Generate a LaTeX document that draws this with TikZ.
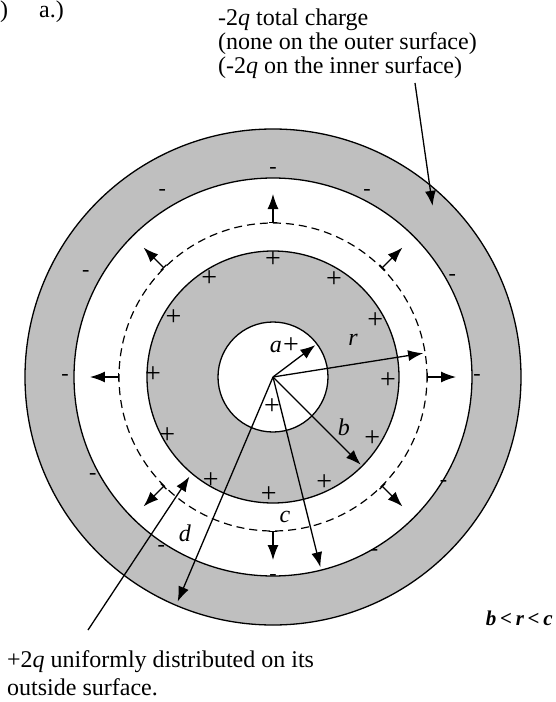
\documentclass[tikz,border=0pt]{standalone}
\usepackage{fontspec}
\setmainfont{Liberation Serif}
\usetikzlibrary{arrows.meta, positioning}

\begin{document}
\begin{tikzpicture}[x=1pt, y=1pt, font=\fontsize{24}{24}\selectfont]
  \tikzstyle{shell} = [draw, line width=1.3pt]
  \tikzstyle{rad} = [-{Latex[length=15pt, width=11pt]}, line width=1.3pt]
  \tikzstyle{fld} = [{Bar[width=8pt]}-{Latex[length=15pt, width=11pt]}, line width=1.3pt]
  \tikzstyle{lbl} = [inner sep=0pt, font=\fontsize{24}{24}\selectfont\itshape]
  \tikzstyle{chg} = [inner sep=0pt, font=\fontsize{28}{28}\selectfont]
  \tikzstyle{neg} = [inner sep=0pt, font=\fontsize{22}{22}\selectfont]

  \useasboundingbox (-273,-325) rectangle (282,377);

  % the two shells
  \draw [shell, fill=gray!50] (0,0) circle (248);
  \draw [shell, fill=white]   (0,0) circle (199);
  \draw [line width=1.2pt, dash pattern=on 8pt off 5pt] (0,0) circle (154);
  \draw [shell, fill=gray!50] (0,0) circle (126);
  \draw [shell, fill=white]   (0,0) circle (55);

  % charges
  \foreach \ang/\rad [count=\i] in {90/117, 58/115, 29/117, -2/115, -32/117, -64/117,
      -92/118, -121/121, -151/121, 179/120, 149/116, 123/117}
    \node (plus\i) [chg] at (\ang:\rad) {+};
  \foreach \ang/\rad [count=\i] in {90/207, 63/207, 29/205, 0/204, -32/201, -60/203,
      -90/200, -123/205, -151/206, 180/208, 151/214, 121/215}
    \node (minus\i) [neg] at (\ang:\rad) {-};
  \node (inplus1) [chg] at (18,31) {+};
  \node (inplus2) [chg] at (-1,-30) {+};

  % field on the gauss surface
  \foreach \ang in {0,45,...,315}
    \draw [fld] (\ang:154) -- (\ang:183);

  % radii
  \coordinate (O) at (0,0);
  \foreach \nm/\ang/\len in {a/37/53, r/9/152, b/-45/124, c/-76/196, d/247/244}
    \coordinate (tip\nm) at (\ang:\len);
  \foreach \nm in {a,r,b,c,d}
    \draw [rad] (O) -- (tip\nm);

  \node (la) [lbl] at (3,30)     {a};
  \node (lr) [lbl] at (80,37)    {r};
  \node (lb) [lbl] at (71,-50)   {b};
  \node (lc) [lbl] at (12,-140)  {c};
  \node (ld) [lbl] at (-88,-156) {d};

  % texts
  \node (prev) [anchor=base west, inner sep=0pt] at (-273,359) {)};
  \node (part) [anchor=base west, inner sep=0pt] at (-234,359) {a.)};
  \node (tot) [anchor=north west, align=left, inner sep=0pt] at (-55,368)
        {-2\textit{q} total charge\\(none on the outer surface)\\(-2\textit{q} on the inner surface)};
  \node (spread) [anchor=north west, align=left, inner sep=0pt,
        font=\fontsize{24}{28}\selectfont] at (-266,-273)
        {+2\textit{q} uniformly distributed on its\\outside surface.};
  \node (ineq) [anchor=base east, inner sep=0pt, font=\fontsize{21}{21}\selectfont] at (280,-248)
        {\textbf{\textit{b\hspace{0.18em}<\hspace{0.18em}r\hspace{0.18em}<\hspace{0.18em}c}}};

  \coordinate (totfoot) at (142,294);
  \coordinate (outer) at (47:234);
  \draw [rad] (totfoot) -- (outer);
  \coordinate (spreadfoot) at (-185,-253);
  \coordinate (bsurf) at (230:130);
  \draw [rad] (spreadfoot) -- (bsurf);
\end{tikzpicture}
\end{document}
